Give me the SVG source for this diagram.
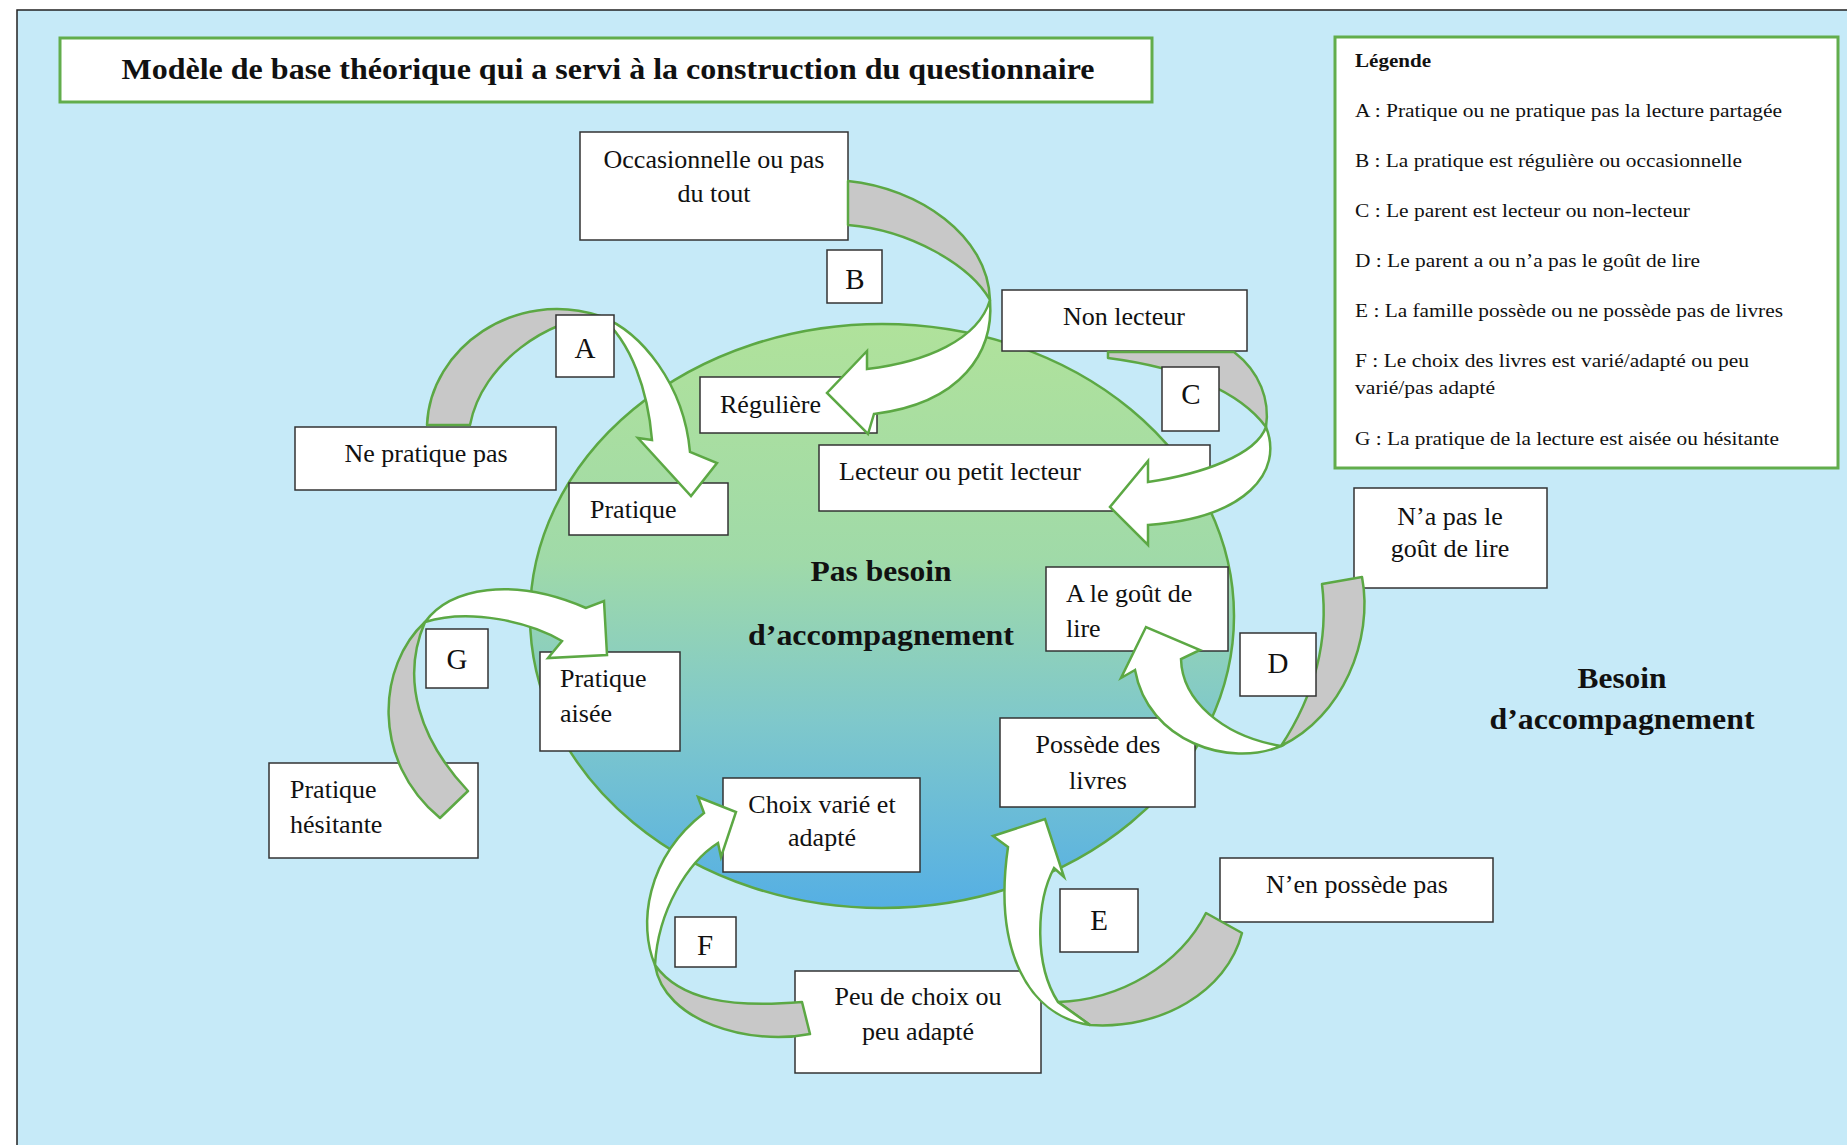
<svg xmlns="http://www.w3.org/2000/svg" width="1847" height="1145" viewBox="0 0 1847 1145">
<defs>
<linearGradient id="circ" x1="0" y1="0" x2="0" y2="1">
<stop offset="0" stop-color="#b0e29b"/>
<stop offset="0.4" stop-color="#a0daa8"/>
<stop offset="0.68" stop-color="#7fc8cb"/>
<stop offset="1" stop-color="#55afe4"/>
</linearGradient>
<style>
.box{fill:#fff;stroke:#333;stroke-width:1.5}
.gbox{fill:#fff;stroke:#62ad4c;stroke-width:3}
.t{font-family:"Liberation Serif","Times New Roman",serif;font-size:26px;fill:#111}
.c{text-anchor:middle}
.lt{font-family:"Liberation Serif","Times New Roman",serif;font-size:29px;fill:#111;text-anchor:middle}
.leg{font-family:"Liberation Serif","Times New Roman",serif;font-size:19px;fill:#111}
.hd{font-family:"Liberation Serif","Times New Roman",serif;font-weight:bold;fill:#111;text-anchor:middle}
.grey{fill:#c8c8c8;stroke:#5ca844;stroke-width:2.5;stroke-linejoin:round}
.white{fill:#fff;stroke:#5ca844;stroke-width:2.5;stroke-linejoin:miter}
</style>
</defs>
<rect width="1847" height="1145" fill="#fff"/>
<rect x="17" y="10" width="1840" height="1145" fill="#c6eaf8" stroke="#222" stroke-width="1.5"/>

<g id="zone-besoin">
<ellipse cx="882" cy="616" rx="352" ry="292" fill="url(#circ)" stroke="#5ca844" stroke-width="2.5"/>
<text class="hd" x="881" y="581" font-size="30" textLength="141" lengthAdjust="spacingAndGlyphs">Pas besoin</text>
<text class="hd" x="881" y="645" font-size="30" textLength="266" lengthAdjust="spacingAndGlyphs">d’accompagnement</text>
</g>

<g id="title">
<rect class="gbox" x="60" y="38" width="1092" height="64"/>
<text class="hd" x="608" y="79" font-size="29" textLength="973" lengthAdjust="spacingAndGlyphs">Modèle de base théorique qui a servi à la construction du questionnaire</text>
</g>

<g id="legend">
<rect class="gbox" x="1335" y="37" width="503" height="431"/>
<text class="leg" x="1355" y="67" font-weight="bold" textLength="76" lengthAdjust="spacingAndGlyphs">Légende</text>
<text class="leg" x="1355" y="117" textLength="427" lengthAdjust="spacingAndGlyphs">A : Pratique ou ne pratique pas la lecture partagée</text>
<text class="leg" x="1355" y="167" textLength="387" lengthAdjust="spacingAndGlyphs">B : La pratique est régulière ou occasionnelle</text>
<text class="leg" x="1355" y="217" textLength="335" lengthAdjust="spacingAndGlyphs">C : Le parent est lecteur ou non-lecteur</text>
<text class="leg" x="1355" y="267" textLength="345" lengthAdjust="spacingAndGlyphs">D : Le parent a ou n’a pas le goût de lire</text>
<text class="leg" x="1355" y="317" textLength="428" lengthAdjust="spacingAndGlyphs">E : La famille possède ou ne possède pas de livres</text>
<text class="leg" x="1355" y="367" textLength="394" lengthAdjust="spacingAndGlyphs">F : Le choix des livres est varié/adapté ou peu</text>
<text class="leg" x="1355" y="394" textLength="140" lengthAdjust="spacingAndGlyphs">varié/pas adapté</text>
<text class="leg" x="1355" y="445" textLength="424" lengthAdjust="spacingAndGlyphs">G : La pratique de la lecture est aisée ou hésitante</text>
</g>

<g id="besoin-label">
<text class="hd" x="1622" y="688" font-size="30" textLength="89" lengthAdjust="spacingAndGlyphs">Besoin</text>
<text class="hd" x="1622" y="729" font-size="30" textLength="265" lengthAdjust="spacingAndGlyphs">d’accompagnement</text>
</g>

<g id="n-occasionnelle">
<rect class="box" x="580" y="132" width="268" height="108"/>
<text class="t c" x="714" y="168">Occasionnelle ou pas</text>
<text class="t c" x="714" y="202">du tout</text>
</g>
<g id="n-non-lecteur">
<rect class="box" x="1002" y="290" width="245" height="61"/>
<text class="t c" x="1124" y="325">Non lecteur</text>
</g>
<g id="n-reguliere">
<rect class="box" x="700" y="377" width="177" height="56"/>
<text class="t" x="720" y="413">Régulière</text>
</g>
<g id="n-ne-pratique-pas">
<rect class="box" x="295" y="427" width="261" height="63"/>
<text class="t c" x="426" y="462">Ne pratique pas</text>
</g>
<g id="n-pratique">
<rect class="box" x="569" y="483" width="159" height="52"/>
<text class="t" x="590" y="518">Pratique</text>
</g>
<g id="n-lecteur">
<rect class="box" x="819" y="445" width="391" height="66"/>
<text class="t" x="839" y="480">Lecteur ou petit lecteur</text>
</g>
<g id="n-na-pas-gout">
<rect class="box" x="1354" y="488" width="193" height="100"/>
<text class="t c" x="1450" y="525">N’a pas le</text>
<text class="t c" x="1450" y="557">goût de lire</text>
</g>
<g id="n-a-le-gout">
<rect class="box" x="1046" y="567" width="182" height="84"/>
<text class="t" x="1066" y="602">A le goût de</text>
<text class="t" x="1066" y="637">lire</text>
</g>
<g id="n-pratique-aisee">
<rect class="box" x="540" y="652" width="140" height="99"/>
<text class="t" x="560" y="687">Pratique</text>
<text class="t" x="560" y="722">aisée</text>
</g>
<g id="n-pratique-hesitante">
<rect class="box" x="269" y="763" width="209" height="95"/>
<text class="t" x="290" y="798">Pratique</text>
<text class="t" x="290" y="833">hésitante</text>
</g>
<g id="n-possede">
<rect class="box" x="1000" y="718" width="195" height="89"/>
<text class="t c" x="1098" y="753">Possède des</text>
<text class="t c" x="1098" y="789">livres</text>
</g>
<g id="n-choix-varie">
<rect class="box" x="723" y="778" width="197" height="94"/>
<text class="t c" x="822" y="813">Choix varié et</text>
<text class="t c" x="822" y="846">adapté</text>
</g>
<g id="n-nen-possede-pas">
<rect class="box" x="1220" y="858" width="273" height="64"/>
<text class="t c" x="1357" y="893">N’en possède pas</text>
</g>
<g id="n-peu-de-choix">
<rect class="box" x="795" y="971" width="246" height="102"/>
<text class="t c" x="918" y="1005">Peu de choix ou</text>
<text class="t c" x="918" y="1040">peu adapté</text>
</g>

<g id="connectors">
<!-- A -->
<path class="grey" d="M427,425 C430,348 515,288 600,316 C550,318 482,362 470,425 Z"/>
<path class="white" d="M600,316 C642,332 684,385 690,452 L717,463 L691,496 L638,438 L652,440 C648,392 632,342 600,316 Z"/>
<!-- B -->
<path class="grey" d="M848,181 C918,188 988,235 990,300 C970,265 910,230 848,225 Z"/>
<path class="white" d="M990,300 C994,352 962,403 874,414 L868,434 L827,393 L867,351 L867,369 C926,362 978,340 990,300 Z"/>
<!-- C -->
<path class="grey" d="M1108,352 L1234,352 C1260,372 1270,400 1266,427 C1240,392 1185,368 1108,358 Z"/>
<path class="white" d="M1266,427 C1284,472 1246,518 1148,525 L1148,545 L1110,507 L1148,461 L1148,482 C1202,474 1256,455 1266,427 Z"/>
<!-- D -->
<path class="grey" d="M1322,584 L1362,577 C1374,640 1342,717 1281,746 C1308,705 1330,650 1322,584 Z"/>
<path class="white" d="M1135,670 L1121,678 L1146,627 L1200,650 L1181,659 C1182,700 1222,736 1281,746 C1230,768 1148,742 1135,670 Z"/>
<!-- E -->
<path class="grey" d="M1058,1002 C1120,1000 1180,965 1206,913 L1242,933 C1227,992 1160,1030 1090,1025 Z"/>
<path class="white" d="M1008,847 L993,836 L1045,819 L1064,877 L1054,868 C1036,902 1034,965 1058,1002 L1090,1025 C1028,1016 993,950 1008,847 Z"/>
<!-- F -->
<path class="grey" d="M655,965 C680,1000 730,1008 802,1002 L810,1034 C750,1046 664,1022 655,965 Z"/>
<path class="white" d="M704,813 L698,797 L736,812 L721,857 L718,843 C688,862 658,910 655,965 C638,925 646,858 704,813 Z"/>
<!-- G -->
<path class="grey" d="M440,818 L468,791 C420,740 400,680 425,622 C378,665 370,760 440,818 Z"/>
<path class="white" d="M425,622 C450,588 512,576 586,608 L604,601 L607,655 L548,658 L562,641 C530,622 470,608 425,622 Z"/>
</g>

<g id="l-A"><rect class="box" x="556" y="315" width="58" height="62"/><text class="lt" x="585" y="358">A</text></g>
<g id="l-B"><rect class="box" x="827" y="250" width="55" height="53"/><text class="lt" x="855" y="289">B</text></g>
<g id="l-C"><rect class="box" x="1162" y="367" width="57" height="64"/><text class="lt" x="1191" y="404">C</text></g>
<g id="l-D"><rect class="box" x="1240" y="633" width="76" height="63"/><text class="lt" x="1278" y="673">D</text></g>
<g id="l-E"><rect class="box" x="1060" y="889" width="78" height="63"/><text class="lt" x="1099" y="930">E</text></g>
<g id="l-F"><rect class="box" x="675" y="917" width="61" height="50"/><text class="lt" x="705" y="955">F</text></g>
<g id="l-G"><rect class="box" x="426" y="629" width="62" height="59"/><text class="lt" x="457" y="669">G</text></g>
</svg>
